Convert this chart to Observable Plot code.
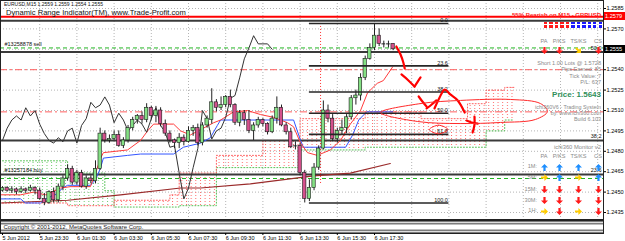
<!DOCTYPE html>
<html><head><meta charset="utf-8">
<script src="https://cdn.jsdelivr.net/npm/d3@7"></script>
<script src="https://cdn.jsdelivr.net/npm/@observablehq/plot@0.6"></script>
<style>
html,body{margin:0;padding:0;background:#fff;}
#wrap{position:relative;width:625px;height:241px;overflow:hidden;font-family:"Liberation Sans",Arial,sans-serif;}
#wrap svg{display:block;}
.ov{position:absolute;white-space:nowrap;line-height:1;}
</style></head><body><div id="wrap"></div>
<script>
// ---------- DATA ----------
const symbolHeader = "EURUSD,M15  1.2559 1.2559 1.2554 1.2555";
const indicatorTitle = "Dynamic Range Indicator(TM), www.Trade-Profit.com";
const timeLabels = ["5 Jun 2012","5 Jun 23:30","6 Jun 01:30","6 Jun 03:30","6 Jun 05:30","6 Jun 07:30","6 Jun 09:30","6 Jun 11:30","6 Jun 13:30","6 Jun 15:30","6 Jun 17:30"];
const labelBars = [0,8,16,24,32,40,48,56,64,72,80];
const gridBars = [8,16,24,32,40,48,56,64,72,80,88,96,104,112,120,128];
const priceTicks = [1.2435,1.2450,1.2465,1.2480,1.2495,1.2510,1.2525,1.2540,1.2555,1.2570,1.2585];

const open = [1.2451,1.2453,1.2451,1.2452,1.2450,1.2452,1.2451,1.2453,1.2451,1.2445, 1.2442,1.2450,1.2444,1.2454,1.2460,1.2467,1.2457,1.2464,1.2454,1.2460, 1.2458,1.2467,1.2493,1.2488,1.2489,1.2492,1.2484,1.2488,1.2497,1.2503, 1.2506,1.2503,1.2512,1.2506,1.2510,1.2500,1.2493,1.2488,1.2486,1.2490, 1.2487,1.2495,1.2497,1.2486,1.2499,1.2503,1.2516,1.2512,1.2514,1.2520, 1.2514,1.2501,1.2508,1.2503,1.2495,1.2499,1.2503,1.2500,1.2494,1.2504, 1.2512,1.2499,1.2494,1.2484,1.2484,1.2464,1.2445,1.2453,1.2468,1.2482, 1.2510,1.2504,1.2489,1.2495,1.2497,1.2505,1.2519,1.2521,1.2534,1.2548, 1.2556,1.2565,1.2559,1.2559,1.2559];
const high = [1.2454,1.2454,1.2454,1.2453,1.2454,1.2453,1.2455,1.2454,1.2453,1.2449, 1.2451,1.2453,1.2456,1.2462,1.2470,1.2469,1.2466,1.2466,1.2462,1.2462, 1.2473,1.2497,1.2495,1.2492,1.2495,1.2495,1.2490,1.2499,1.2505,1.2507, 1.2509,1.2515,1.2513,1.2513,1.2512,1.2503,1.2495,1.2489,1.2493,1.2492, 1.2498,1.2499,1.2500,1.2501,1.2506,1.2526,1.2518,1.2520,1.2521,1.2525, 1.2515,1.2510,1.2510,1.2510,1.2501,1.2505,1.2504,1.2501,1.2506,1.2520, 1.2514,1.2501,1.2497,1.2487,1.2486,1.2466,1.2459,1.2471,1.2484,1.2517, 1.2514,1.2507,1.2497,1.2503,1.2507,1.2521,1.2525,1.2537,1.2550,1.2559, 1.2574,1.2570,1.2561,1.2561,1.2559];
const low = [1.2450,1.2450,1.2449,1.2448,1.2449,1.2449,1.2450,1.2448,1.2444,1.2440, 1.2441,1.2442,1.2442,1.2451,1.2458,1.2455,1.2455,1.2453,1.2452,1.2456, 1.2456,1.2466,1.2486,1.2486,1.2488,1.2483,1.2482,1.2486,1.2495,1.2500, 1.2500,1.2501,1.2503,1.2501,1.2498,1.2491,1.2486,1.2482,1.2482,1.2484, 1.2486,1.2491,1.2484,1.2484,1.2497,1.2500,1.2509,1.2510,1.2512,1.2512, 1.2499,1.2498,1.2499,1.2493,1.2488,1.2497,1.2498,1.2492,1.2493,1.2500, 1.2498,1.2492,1.2482,1.2481,1.2462,1.2442,1.2443,1.2451,1.2466,1.2481, 1.2501,1.2487,1.2486,1.2492,1.2493,1.2503,1.2514,1.2517,1.2532,1.2547, 1.2554,1.2557,1.2556,1.2556,1.2554];
const close = [1.2453,1.2451,1.2452,1.2450,1.2452,1.2451,1.2453,1.2451,1.2445,1.2442, 1.2450,1.2444,1.2454,1.2460,1.2467,1.2457,1.2464,1.2454,1.2460,1.2458, 1.2467,1.2493,1.2488,1.2489,1.2492,1.2484,1.2488,1.2497,1.2503,1.2506, 1.2503,1.2512,1.2506,1.2510,1.2500,1.2493,1.2488,1.2486,1.2490,1.2487, 1.2495,1.2497,1.2486,1.2499,1.2504,1.2516,1.2512,1.2514,1.2520,1.2514, 1.2501,1.2508,1.2503,1.2495,1.2499,1.2503,1.2500,1.2494,1.2504,1.2512, 1.2499,1.2494,1.2483,1.2484,1.2464,1.2445,1.2453,1.2468,1.2482,1.2510, 1.2504,1.2489,1.2495,1.2497,1.2505,1.2519,1.2521,1.2534,1.2548,1.2556, 1.2565,1.2559,1.2559,1.2559,1.2555];
const chikouShift = 26;

// Ichimoku lines traced [bar, price]
const tenkan = [[-0.4,1.2448],[3.9,1.2448],[6.7,1.2450],[9.2,1.2448],[12.5,1.2453],[14.6,1.2454],[18.9,1.2454],[20,1.2464],[21.1,1.2475],[21.7,1.2479],[26.9,1.2481],[29.7,1.2488],[31.2,1.2495],[32.5,1.2500],[36.8,1.2500],[38.3,1.2495],[40.4,1.2492],[43.2,1.2497],[45.4,1.2501],[46.9,1.2503],[49.7,1.2509],[52.7,1.2510],[55.5,1.2507],[58.3,1.2505],[61.3,1.2501],[62.6,1.2498],[64.1,1.2486],[65.6,1.2479],[67.7,1.2477],[70.5,1.2481],[72.7,1.2488],[74.8,1.2500],[77.0,1.2510],[78.5,1.2523],[80.6,1.2530],[81.9,1.2532],[83.9,1.2542]];
const kijun = [[-0.4,1.2445],[3.9,1.2445],[4.9,1.2442],[8.2,1.2442],[8.8,1.2444],[11.8,1.2449],[12.9,1.2453],[14,1.2455],[18.9,1.2455],[20,1.2459],[21.1,1.2468],[21.7,1.2475],[26.9,1.2477],[29.7,1.2478],[36.8,1.2478],[38.9,1.2483],[42.6,1.2486],[44.7,1.2490],[46.2,1.2499],[46.9,1.2503],[62.6,1.2503],[64.1,1.2488],[64.7,1.2483],[73.8,1.2483],[75.3,1.2492],[76.6,1.2503],[78.3,1.2509],[83.9,1.2509]];
const slowMA = [[-0.4,1.2442],[14,1.2444],[25.4,1.2448],[38.3,1.2453],[42.6,1.2453],[53.3,1.2456],[66.9,1.2462],[74.8,1.2464],[83.4,1.2471]];

// Kumo (cloud) breakpoints
const greenBars = [0,14,22,24];
const greenA = [1.2473,1.2464,1.2451,1.2441];
const greenB = [1.2442,1.2440,1.2440,1.2440];
const redBars = [24,36,38,46,56,64,78,90,100,104,108,110];
const redB = [1.2444,1.2448,1.2464,1.2477,1.2488,1.2504,1.2509,1.2504,1.2515,1.2525,1.2527,1.2527];
const redA = [1.2439,1.2439,1.2440,1.2468,1.2468,1.2481,1.2483,1.2483,1.2483,1.2495,1.2503,1.2503];

// horizontal levels
const redLevels = [1.2579];
const blackLevels = [1.2576,1.2553,1.2488,1.2463];
const greenDashLevels = [1.2556,1.2460];
const redDashDotLevels = [1.2540,1.2509];
const levelLabels = [{p:1.2553,t:"50.0"},{p:1.2488,t:"38.2"},{p:1.2463,t:"23.6"}];
const orderLabels = [{p:1.2556,t:"#13258878 sell"},{p:1.2463,t:"#13257184 buy"}];
const markerBar = [68.4];
const markerSpan = [1.2574,1.2455];

// Fibonacci retracement
const fibHigh = 1.2574, fibLow = 1.2442, fibStart = 66, fibEnd = 96;
const fibLevels = [0,23.6,38.2,50,61.8,100];

// hand-drawn annotations [bar, price]
const strokes = [
  [[84.7,1.25571],[85.6,1.25512],[86.2,1.25453],[86.5,1.25409]],
  [[85.8,1.25365],[87.3,1.25321],[88.6,1.25276]],
  [[88.6,1.25276],[89.3,1.25313],[89.9,1.25343]],
  [[89.5,1.25203],[90.3,1.25166],[91.2,1.25129]],
  [[91.2,1.25115],[92.3,1.25144],[93.3,1.25174]],
  [[92.9,1.25115],[94.0,1.25196],[95.1,1.25254],[96.3,1.25218],[97.9,1.25174],[99.4,1.25085]],
  [[99.8,1.25026],[100.9,1.25012],[102.2,1.25004]],
  [[101.5,1.25056],[101.5,1.24997],[101.1,1.24938]]
];
const bigEllipse = [[81.3,1.25085],[89.9,1.25151],[98.5,1.25174],[109.3,1.25181],[115.7,1.25151],[117.2,1.25093],[114.6,1.25034],[107.1,1.25012],[98.5,1.25004],[89.3,1.25019]];
const fibEllipse = [[91.8,1.24960],[93.8,1.24992],[95.8,1.24960],[93.8,1.24929]];

// subwindow
const subLevels = [0,0.8,3.2,4];
const copyright = "Copyright © 2001-2012, MetaQuotes Software Corp.";

// info panel
const bearishText = "55% Bearish on M15 - GBPUSD";
const strengthSquares = ["r","r","r","r","r","b","b","b","b","b","b"];
const colHeads = ["PA","P/KS","TS/KS","CS"];
const topSignals = ["r:d","r:d","y:se","r:d"];
const tradeLines = ["Short 1.00 Lots @ 1.5728","Pips Earned: 85","Tick Value: 7","P/L: 637"];
const priceText = "Price: 1.5643";
const systemLines = ["ichi360V6 - Trading System","by: www.ichi360.com","Build 6.103"];
const monitorTitle = "ichi360 Monitor v2";
const monitorRows = ["1M:","5M:","15M:","30M:","1H:"];
const monitorSignals = [["b:u","b:u","b:u","b:u"],["y:e","b:u","y:e","b:u"],["r:d","r:d","r:d","r:d"],["r:d","r:d","r:d","r:d"],["y:e","r:d","y:e","r:d"]];
const bidBox = 1.2555, alertBox = 1.2579;

// ---------- CHART ----------
const bars = open.map((o,i)=>({i,o,h:high[i],l:low[i],c:close[i]}));
const fibPrice = l => fibHigh - (fibHigh - fibLow) * l / 100;
const pts = a => a.map(([x,y])=>({x,y}));
const xy = {x:"x", y:"y"};
const greenCloud = greenBars.map((b,k)=>({b,a:greenA[k],s:greenB[k]}));
const redCloud = redBars.map((b,k)=>({b,a:redA[k],s:redB[k]}));
const spanAline = greenCloud.concat(redCloud).map(d=>({x:d.b,y:d.a}));
const spanBline = greenCloud.concat(redCloud).map(d=>({x:d.b,y:d.s}));
const strokePts = strokes.flatMap((s,k)=>s.map(([x,y])=>({k,x,y})));

const main = Plot.plot({
  width:625, height:220,
  marginTop:0, marginBottom:1, marginLeft:0, marginRight:22,
  style:{fontFamily:"Liberation Sans, Arial, sans-serif", fontSize:"6px", background:"#fff", overflow:"visible"},
  x:{domain:[0,84], range:[2,392.6], axis:null},
  y:{domain:[1.2435,1.2585], range:[212,8]},
  marks:[
    Plot.ruleX(gridBars,{stroke:"#b4b4b4", strokeDasharray:"1,2"}),
    Plot.ruleY(priceTicks,{stroke:"#b4b4b4", strokeDasharray:"1,2"}),
    Plot.areaY(greenCloud,{x:"b", y1:"a", y2:"s", curve:"step-after", fill:"url(#hatchG)"}),
    Plot.areaY(redCloud,{x:"b", y1:"a", y2:"s", curve:"step-after", fill:"url(#hatchR)"}),
    Plot.line(spanAline,{...xy, curve:"step-after", stroke:"#55c055", strokeDasharray:"1,2", strokeWidth:1}),
    Plot.line(spanBline,{...xy, curve:"step-after", stroke:"#ff6060", strokeDasharray:"1,2", strokeWidth:1}),
    Plot.ruleY(redDashDotLevels,{stroke:"#ff6060", strokeWidth:1, strokeDasharray:"7,3,2,3"}),
    Plot.ruleY(greenDashLevels,{stroke:"#22b622", strokeWidth:1, strokeDasharray:"4,3"}),
    Plot.ruleY(blackLevels,{stroke:"#3a3a3a", strokeWidth:2}),
    Plot.ruleY(redLevels,{stroke:"#ff0000", strokeWidth:2}),
    Plot.ruleX(markerBar,{y1:markerSpan[0], y2:markerSpan[1], stroke:"#ff3030", strokeDasharray:"1,2"}),
    Plot.line(pts(slowMA),{...xy, stroke:"#9a2a2a", strokeWidth:1.2}),
    Plot.line(pts(kijun),{...xy, stroke:"#3355ff", strokeWidth:1}),
    Plot.line(pts(tenkan),{...xy, stroke:"#ff3b3b", strokeWidth:1}),
    Plot.line(bars.filter(d=>d.i>=chikouShift),{x:d=>d.i-chikouShift, y:"c", stroke:"#333", strokeWidth:1}),
    Plot.ruleX(bars,{x:"i", y1:"l", y2:"h", stroke:"#222", strokeWidth:1}),
    Plot.rect(bars.filter(d=>d.c>d.o),{x1:d=>d.i-0.36, x2:d=>d.i+0.36, y1:"o", y2:"c", fill:"#84e084", stroke:"#1a1a1a", strokeWidth:0.6}),
    Plot.rect(bars.filter(d=>d.c<d.o),{x1:d=>d.i-0.36, x2:d=>d.i+0.36, y1:"o", y2:"c", fill:"#d4508c", stroke:"#1a1a1a", strokeWidth:0.6}),
    Plot.ruleY(bars.filter(d=>d.c===d.o),{y:"o", x1:d=>d.i-0.4, x2:d=>d.i+0.4, stroke:"#222"}),
    Plot.ruleY(fibLevels,{y:fibPrice, x1:fibStart, x2:fibEnd, stroke:"#262626", strokeWidth:1.6}),
    Plot.text(fibLevels,{x:fibEnd, y:fibPrice, text:l=>l.toFixed(1), textAnchor:"end", dx:-1, dy:-3, fontSize:5.5, fill:"#111"}),
    Plot.line(strokePts,{x:"x", y:"y", z:"k", stroke:"#ff0000", strokeWidth:2.2, curve:"catmull-rom", strokeLinecap:"round"}),
    Plot.line(pts(bigEllipse),{...xy, curve:"catmull-rom-closed", stroke:"#ff2a2a", strokeWidth:1}),
    Plot.line(pts(fibEllipse),{...xy, curve:"catmull-rom-closed", stroke:"#ff2a2a", strokeWidth:1}),
    Plot.text(levelLabels,{y:"p", text:"t", frameAnchor:"right", textAnchor:"end", dx:-2, dy:-4, fontSize:5.5, fill:"#111"}),
    Plot.text(orderLabels,{x:0, y:"p", text:"t", textAnchor:"start", dx:2, dy:-4, fontSize:5.5, fill:"#111"}),
    Plot.axisY({anchor:"right", ticks:priceTicks, tickFormat:d3.format(".4f"), tickSize:2, tickPadding:1, fontSize:5.6}),
    Plot.frame({stroke:"#222"})
  ]
});

const defs = d3.select(main).insert("defs",":first-child");
[["hatchR","#ff6a6a"],["hatchG","#6ccc6c"]].forEach(([id,c])=>{
  const p = defs.append("pattern").attr("id",id).attr("patternUnits","userSpaceOnUse").attr("width",4.65).attr("height",3);
  p.append("rect").attr("width",1).attr("height",1).attr("fill",c);
});

const sub = Plot.plot({
  width:625, height:21,
  marginTop:0, marginBottom:8, marginLeft:0, marginRight:22,
  style:{fontFamily:"Liberation Sans, Arial, sans-serif", fontSize:"5.5px", background:"#fff", overflow:"visible"},
  x:{domain:[0,84], range:[2,392.6]},
  y:{domain:[0,4], range:[12,1], axis:null},
  marks:[
    Plot.ruleY(subLevels,{stroke:"#7c7c7c", strokeWidth:1.6}),
    Plot.text([copyright],{x:0, y:2, text:d=>d, textAnchor:"start", dx:1, fontSize:6, fill:"#222"}),
    Plot.frame({stroke:"#222"}),
    Plot.axisX({ticks:labelBars, tickFormat:b=>timeLabels[labelBars.indexOf(b)], tickSize:2, tickPadding:1, textAnchor:"start", fontSize:5.5, label:null})
  ]
});

const wrap = document.getElementById("wrap");
wrap.append(main, sub);

// ---------- OVERLAY PANEL ----------
const ov = (html, css) => { const d = document.createElement("div"); d.className = "ov"; d.innerHTML = html; d.style.cssText += css; wrap.append(d); return d; };
const ys = main.scale("y");
const arrowColors = {r:"#ff1a1a", b:"#1e8fff", y:"#ffcc00"};
const arrowRot = {d:0, u:180, e:-90, se:-45};
const arrowSvg = code => { const [c,dir] = code.split(":"); return `<svg width="7" height="7" viewBox="0 0 7 7"><path d="M2.4 0H4.6V3.4H7L3.5 7L0 3.4H2.4Z" fill="${arrowColors[c]}" transform="rotate(${arrowRot[dir]} 3.5 3.5)"/></svg>`; };
const colX = [544,559,578.5,598];
const gray = "#8a8a8a";

ov(symbolHeader, "left:4px;top:2px;font-size:5px;color:#111;");
ov(indicatorTitle, "left:6px;top:8.5px;font-size:7.6px;color:#111;");
ov(bearishText, "right:24px;top:11.5px;font-size:6px;font-weight:bold;color:#ff1a1a;");
strengthSquares.forEach((s,k)=>{
  [0,1].forEach(r=>ov("", `left:${544+k*5.45}px;top:${21.5+r*3.8}px;width:3.4px;height:2.8px;background:${s==="r"?"#ff1a1a":"#1a1aff"};`));
});
const heads = (top) => colHeads.forEach((h,k)=>ov(h, `left:${colX[k]-12}px;width:24px;text-align:center;top:${top}px;font-size:5.6px;color:${gray};`));
heads(39);
topSignals.forEach((s,k)=>ov(arrowSvg(s), `left:${colX[k]-3.5}px;top:47px;`));
tradeLines.forEach((t,k)=>ov(t, `right:24px;top:${60.5+k*6.5}px;font-size:5.6px;color:${gray};`));
ov(priceText, "right:24px;top:90.5px;font-size:8px;font-weight:bold;color:#2f8f5a;");
systemLines.forEach((t,k)=>ov(t, `right:24px;top:${104.5+k*6}px;font-size:5.4px;color:${gray};`));
ov(monitorTitle, `right:24px;top:145px;font-size:5.8px;color:${gray};`);
heads(153.5);
const rowY = [167,177.5,189.5,200.5,211];
monitorRows.forEach((r,j)=>{
  ov(r, `right:${625-537}px;top:${rowY[j]-3}px;font-size:5.6px;color:${gray};`);
  monitorSignals[j].forEach((s,k)=>ov(arrowSvg(s), `left:${colX[k]-3.5}px;top:${rowY[j]-3.5}px;`));
});
ov(d3.format(".4f")(alertBox), `left:604px;top:${ys.apply(alertBox)-4}px;width:21px;height:8px;background:#ff0000;color:#fff;font-size:5.6px;line-height:8px;padding-left:1px;box-sizing:border-box;`);
ov(d3.format(".4f")(bidBox), `left:604px;top:${ys.apply(bidBox)-4}px;width:21px;height:8px;background:#000;color:#fff;font-size:5.6px;line-height:8px;padding-left:1px;box-sizing:border-box;`);
</script></body></html>
